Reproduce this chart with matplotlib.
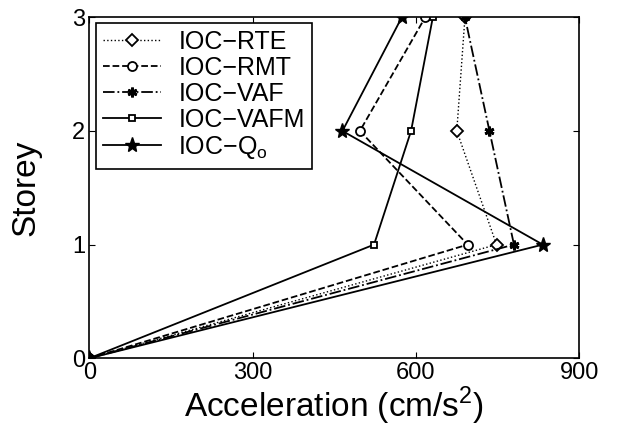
import matplotlib
matplotlib.use("Agg")
import matplotlib.pyplot as plt

plt.rcParams['font.family'] = ['Liberation Sans', 'DejaVu Sans']
plt.rcParams['mathtext.fontset'] = 'custom'
plt.rcParams['mathtext.rm'] = 'Liberation Sans'

# storey accelerations (cm/s^2)
storey = [0, 1, 2, 3]
rte = [0, 748, 675, 690]
rmt = [0, 695, 497, 617]
vaf = [0, 780, 735, 690]
vafm = [0, 523, 591, 631]
q_o = [0, 833, 465, 574]

x_ticks = [0, 300, 600, 900]
y_ticks = [0, 1, 2, 3]

fig = plt.figure(figsize=(6.17, 4.28), dpi=100)
ax = fig.add_axes([0.1447, 0.1629, 0.7942, 0.7967])

asterisk = (6, 2, 0)
ax.plot(rte, storey, ':', color='k', lw=1, marker='D', ms=6,
        mfc='white', mec='k', mew=1.3, label='IOC\u2212RTE')
ax.plot(rmt, storey, '--', color='k', lw=1.3, marker='o', ms=6.5,
        mfc='white', mec='k', mew=1.3, label='IOC\u2212RMT')
ax.plot(vaf, storey, '-.', color='k', lw=1.3, marker=asterisk, ms=7,
        mec='k', mew=2, label='IOC\u2212VAF')
ax.plot(vafm, storey, '-', color='k', lw=1.3, marker='s', ms=5,
        mfc='white', mec='k', mew=1.3, label='IOC\u2212VAFM')
ax.plot(q_o, storey, '-', color='k', lw=1.3, marker='*', ms=11,
        mfc='k', mec='k', label='IOC\u2212Q$_\\mathregular{o}$')

ax.set_xlim(0, 900)
ax.set_ylim(0, 3)
ax.set_xticks(x_ticks)
ax.set_yticks(y_ticks)
ax.tick_params(direction='in', top=True, right=True, labelsize=17,
               length=4, width=0.8, pad=3)
for s in ax.spines.values():
    s.set_linewidth(1.2)

ax.set_xlabel('Acceleration (cm/s$^\\mathregular{2}$)', fontsize=24, labelpad=0)
ax.set_ylabel('Storey', fontsize=24, labelpad=22)

leg = ax.legend(loc='upper left', bbox_to_anchor=(0.0137, 0.984),
                borderaxespad=0, fontsize=18, fancybox=False,
                edgecolor='k', framealpha=1, handlelength=2.3,
                handletextpad=0.7, labelspacing=0.08, borderpad=0.3)
leg.get_frame().set_linewidth(1.2)

fig.savefig('out.png', dpi=100)
